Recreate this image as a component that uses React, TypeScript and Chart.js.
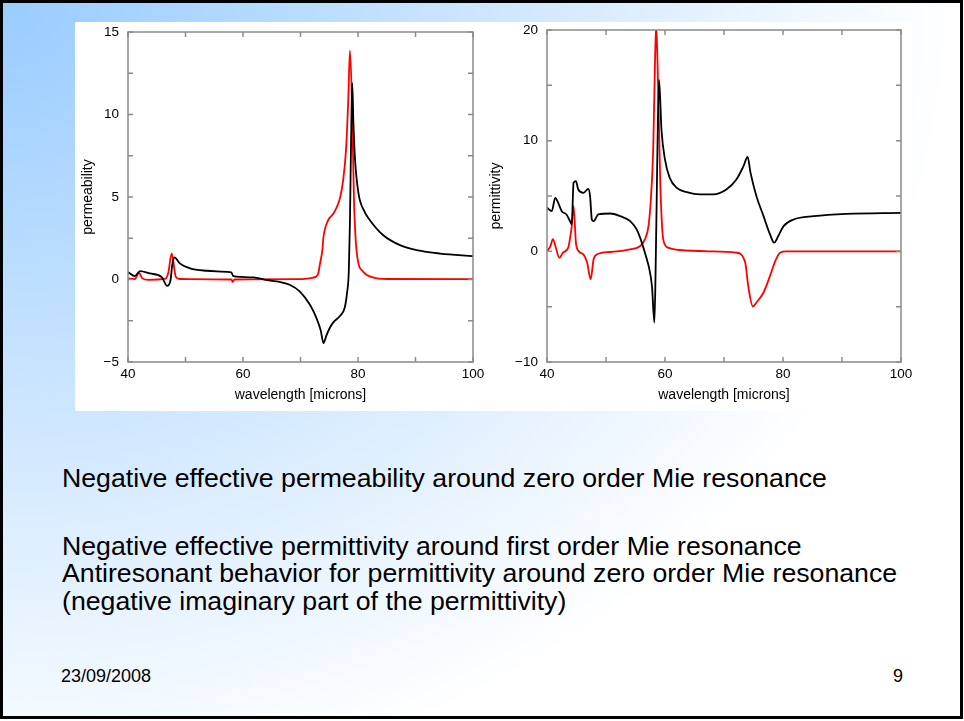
import React, { useEffect, useRef } from 'react';
import { Chart, registerables } from 'chart.js';

Chart.register(...registerables);

// ---------- Data: left chart (permeability) ----------
const permRealX = [40, 41.2, 42.1, 43.8, 45.9, 46.8, 47.4, 47.7, 48.1, 49.0, 50.8, 53.7, 57.7, 58.0, 58.3, 61.8, 64.1, 66.4, 68.2, 69.9, 71.7, 72.8, 73.5, 74.0, 74.5, 75.0, 75.7, 76.9, 77.7, 78.1, 78.4, 78.6, 78.8, 79.0, 79.2, 79.5, 80.1, 81.0, 82.1, 84.4, 87.3, 90.2, 94.3, 100];
const permRealY = [0.45, 0.21, 0.51, 0.37, 0.13, -0.39, -0.03, 0.9, 1.34, 0.98, 0.67, 0.53, 0.45, 0.42, 0.21, 0.13, -0.03, -0.15, -0.33, -0.73, -1.56, -2.36, -3.06, -3.85, -3.4, -3.0, -2.6, -2.2, -1.7, -0.8, 0.5, 3.5, 8.5, 11.9, 9.5, 7.2, 5.19, 4.2, 3.58, 2.68, 2.08, 1.78, 1.57, 1.42];

const permImagX = [40, 41.2, 41.9, 42.5, 43.5, 46.5, 47.0, 47.6, 48.3, 49.0, 58.0, 58.2, 58.5, 70, 72, 73.0, 73.4, 73.8, 74.0, 74.8, 75.7, 76.3, 76.9, 77.4, 77.9, 78.3, 78.6, 78.95, 79.3, 79.8, 80.9, 82.6, 85, 100];
const permImagY = [0.07, 0.03, 0.41, 0.07, -0.02, 0.05, 0.4, 1.58, 0.17, 0.03, 0.0, -0.15, 0.0, 0.02, 0.1, 0.27, 0.97, 1.78, 2.58, 3.58, 3.98, 4.38, 4.98, 5.98, 7.78, 10.8, 13.87, 10.8, 4.8, 1.58, 0.47, 0.13, 0.03, 0.02];

// ---------- Data: right chart (permittivity) ----------
const permitRealX = [40, 40.8, 41.4, 41.9, 42.5, 43.3, 43.9, 44.2, 44.5, 44.9, 45.3, 46.2, 47.0, 47.3, 47.6, 47.9, 48.7, 50.7, 52.4, 54.1, 55.2, 56.0, 56.8, 57.3, 57.8, 58.2, 58.4, 58.6, 58.8, 59.0, 59.4, 60.0, 60.8, 62.0, 63.7, 65.9, 68.2, 70.4, 72.1, 73.3, 74.0, 74.5, 75.5, 76.7, 77.8, 78.5, 79.2, 80.1, 81.8, 85.2, 90.8, 100];
const permitRealY = [3.93, 3.63, 4.83, 4.38, 3.63, 3.33, 2.73, 2.43, 6.19, 6.34, 5.59, 5.29, 5.65, 4.98, 2.88, 2.73, 3.33, 3.42, 3.18, 2.73, 1.98, 0.9, -0.5, -1.5, -3.2, -6.43, -2.0, 5.0, 12.0, 15.5, 11.0, 8.29, 6.64, 5.74, 5.35, 5.14, 5.14, 5.59, 6.49, 7.69, 8.53, 7.09, 4.98, 3.18, 1.53, 0.78, 1.38, 2.28, 2.88, 3.18, 3.39, 3.48];

const permitImagX = [40, 40.6, 41.0, 41.5, 42.1, 42.7, 43.6, 44.0, 44.2, 44.5, 44.9, 45.3, 46.2, 46.8, 47.4, 47.9, 48.5, 50.7, 54.1, 55.8, 56.6, 57.2, 57.6, 58.0, 58.3, 58.5, 58.75, 59.2, 59.7, 60.5, 62.5, 68.2, 72.1, 73.6, 74.1, 74.9, 75.5, 76.7, 77.8, 78.7, 79.5, 80.6, 100];
const permitImagY = [0, 0.5, 1.1, 0.33, -0.6, -0.12, 0.33, 1.5, 2.28, 4.08, 0.78, 0.05, -0.3, -1.02, -2.52, -0.72, -0.27, -0.06, 0.18, 0.48, 1.08, 2.28, 4.68, 9.19, 17, 20.5, 16.7, 6.19, 1.08, 0.33, 0.12, 0, -0.12, -1.02, -3.12, -4.98, -4.62, -3.72, -2.22, -0.87, -0.12, 0, 0];

// ---------- Ticks ----------
const xTickValues = [40, 50, 60, 70, 80, 90, 100];
const leftYTickValues = [-5, -2.5, 0, 2.5, 5, 7.5, 10, 12.5, 15];
const rightYTickValues = [-10, -5, 0, 5, 10, 15, 20];

const FONT = "'Liberation Sans', Arial, Helvetica, sans-serif";

const zip = (xs: number[], ys: number[]) => xs.map((x, i) => ({ x, y: ys[i] }));

const framePlugin = {
  id: 'gnuframe',
  afterDraw(chart: any, _args: any, opts: any) {
    const { ctx, chartArea: a, scales } = chart;
    const xs = scales.x;
    const ys = scales.y;
    const L = 5;
    ctx.save();
    ctx.strokeStyle = '#8a8a8a';
    ctx.lineWidth = 1.5;
    ctx.beginPath();
    for (const v of opts.xTicks as number[]) {
      const px = xs.getPixelForValue(v);
      ctx.moveTo(px, a.bottom);
      ctx.lineTo(px, a.bottom - L);
      ctx.moveTo(px, a.top);
      ctx.lineTo(px, a.top + L);
    }
    for (const v of opts.yTicks as number[]) {
      const py = ys.getPixelForValue(v);
      ctx.moveTo(a.left, py);
      ctx.lineTo(a.left + L, py);
      ctx.moveTo(a.right, py);
      ctx.lineTo(a.right - L, py);
    }
    ctx.stroke();
    ctx.strokeRect(a.left, a.top, a.right - a.left, a.bottom - a.top);
    ctx.restore();
  },
};

type Spec = {
  realX: number[];
  realY: number[];
  imagX: number[];
  imagY: number[];
  yMin: number;
  yMax: number;
  yStep: number;
  yTicks: number[];
  yTitle: string;
  yAxisWidth: number;
  xAxisHeight: number;
  padTop: number;
  padRight: number;
  yTitlePad: number;
  width: number;
  height: number;
  left: number;
  top: number;
};

function fmt(v: number) {
  return v < 0 ? '\u2212' + Math.abs(v) : String(v);
}

function PlotCanvas({ spec }: { spec: Spec }) {
  const ref = useRef<HTMLCanvasElement | null>(null);
  useEffect(() => {
    if (!ref.current) return;
    const chart = new Chart(ref.current, {
      type: 'line',
      data: {
        datasets: [
          {
            data: zip(spec.realX, spec.realY),
            borderColor: '#000000',
            borderWidth: 1.8,
            pointRadius: 0,
            cubicInterpolationMode: 'monotone',
            fill: false,
          },
          {
            data: zip(spec.imagX, spec.imagY),
            borderColor: '#ff0000',
            borderWidth: 1.8,
            pointRadius: 0,
            cubicInterpolationMode: 'monotone',
            fill: false,
          },
        ],
      },
      options: {
        responsive: false,
        animation: false,
        devicePixelRatio: 1,
        layout: { padding: { top: spec.padTop, right: spec.padRight, left: 0, bottom: 0 } },
        plugins: {
          legend: { display: false },
          tooltip: { enabled: false },
          gnuframe: { xTicks: xTickValues, yTicks: spec.yTicks },
        } as any,
        scales: {
          x: {
            type: 'linear',
            min: 40,
            max: 100,
            grid: { display: false, drawTicks: false, tickLength: 0 },
            border: { display: false },
            ticks: {
              stepSize: 20,
              color: '#000',
              padding: 4,
              maxRotation: 0,
              autoSkip: false,
              font: { family: FONT, size: 13.5 },
              callback: (v: any) => fmt(Number(v)),
            },
            title: {
              display: true,
              text: 'wavelength [microns]',
              color: '#000',
              font: { family: FONT, size: 14 },
              padding: { top: 0, bottom: 7 },
            },
            afterFit: (s: any) => {
              s.height = spec.xAxisHeight;
              s.paddingLeft = 0;
              s.paddingRight = 0;
            },
          },
          y: {
            type: 'linear',
            min: spec.yMin,
            max: spec.yMax,
            grid: { display: false, drawTicks: false, tickLength: 0 },
            border: { display: false },
            ticks: {
              stepSize: spec.yStep,
              color: '#000',
              padding: 9,
              autoSkip: false,
              font: { family: FONT, size: 13.5 },
              callback: (v: any) => fmt(Number(v)),
            },
            title: {
              display: true,
              text: spec.yTitle,
              color: '#000',
              font: { family: FONT, size: 14 },
              padding: { top: spec.yTitlePad, bottom: 0 },
            },
            afterFit: (s: any) => {
              s.width = spec.yAxisWidth;
              s.paddingTop = 0;
              s.paddingBottom = 0;
            },
          },
        },
      },
      plugins: [framePlugin as any],
    });
    return () => chart.destroy();
  }, [spec]);
  return (
    <canvas
      ref={ref}
      width={spec.width}
      height={spec.height}
      style={{ position: 'absolute', left: spec.left, top: spec.top, width: spec.width, height: spec.height }}
    />
  );
}

const leftSpec: Spec = {
  realX: permRealX,
  realY: permRealY,
  imagX: permImagX,
  imagY: permImagY,
  yMin: -5,
  yMax: 15,
  yStep: 5,
  yTicks: leftYTickValues,
  yTitle: 'permeability',
  yAxisWidth: 53,
  xAxisHeight: 49,
  padTop: 10,
  padRight: 15,
  yTitlePad: 5,
  width: 413,
  height: 389,
  left: 75,
  top: 22,
};

const rightSpec: Spec = {
  realX: permitRealX,
  realY: permitRealY,
  imagX: permitImagX,
  imagY: permitImagY,
  yMin: -10,
  yMax: 20,
  yStep: 10,
  yTicks: rightYTickValues,
  yTitle: 'permittivity',
  yAxisWidth: 59,
  xAxisHeight: 49,
  padTop: 8,
  padRight: 29,
  yTitlePad: 0,
  width: 442,
  height: 389,
  left: 488,
  top: 22,
};

const bodyStyle: React.CSSProperties = {
  position: 'absolute',
  left: 62,
  whiteSpace: 'nowrap',
  fontFamily: FONT,
  fontSize: 26.7,
  color: '#000',
};

export default function App() {
  return (
    <div style={{ position: 'fixed', left: 0, top: 0, width: 964, height: 721, background: '#fff', overflow: 'hidden' }}>
      <div
        style={{
          position: 'absolute',
          left: 0,
          top: 0,
          width: 963,
          height: 719,
          boxSizing: 'border-box',
          border: '3px solid #000',
          background: 'radial-gradient(ellipse 950px 800px at 0px 0px, #99ccff 0%, #ffffff 100%)',
        }}
      />
      <div style={{ position: 'absolute', left: 75, top: 22, width: 837, height: 389, background: '#fff' }} />
      <PlotCanvas spec={leftSpec} />
      <PlotCanvas spec={rightSpec} />
      <div style={{ ...bodyStyle, top: 465.4, lineHeight: '26.7px' }}>
        Negative effective permeability around zero order Mie resonance
      </div>
      <div style={{ ...bodyStyle, top: 533, lineHeight: '27.3px' }}>
        <div>Negative effective permittivity around first order Mie resonance</div>
        <div>Antiresonant behavior for permittivity around zero order Mie resonance</div>
        <div>(negative imaginary part of the permittivity)</div>
      </div>
      <div style={{ position: 'absolute', left: 61, top: 666.8, fontFamily: FONT, fontSize: 18, lineHeight: '18px', whiteSpace: 'nowrap' }}>
        23/09/2008
      </div>
      <div style={{ position: 'absolute', left: 870, width: 33, textAlign: 'right', top: 666.8, fontFamily: FONT, fontSize: 18, lineHeight: '18px' }}>
        9
      </div>
    </div>
  );
}
